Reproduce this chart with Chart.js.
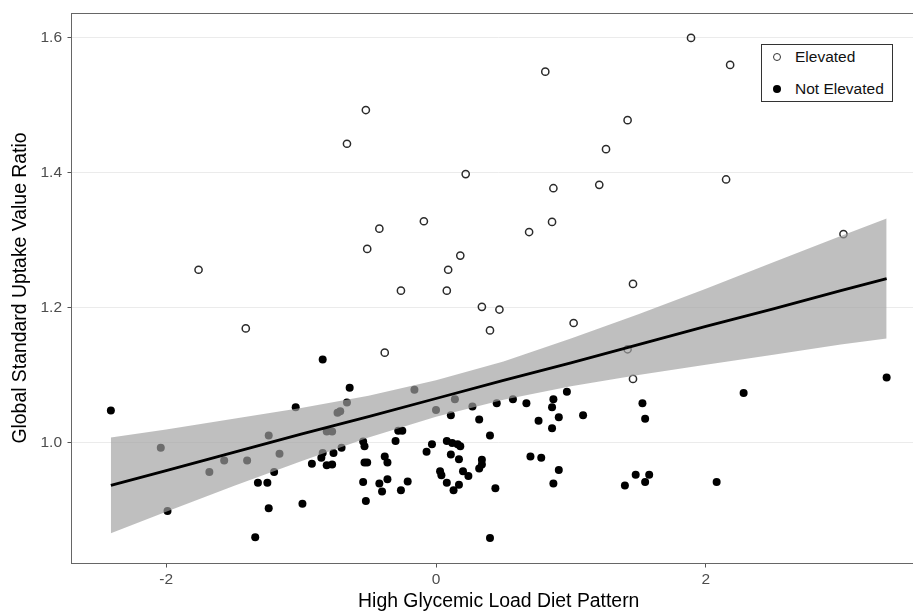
<!DOCTYPE html>
<html>
<head>
<meta charset="utf-8">
<script src="https://cdn.jsdelivr.net/npm/chart.js@4.4.1/dist/chart.umd.min.js"></script>
<style>
  body { margin: 0; background: #fff; }
  #wrap { position: relative; width: 913px; height: 611px; overflow: hidden; }
  #legend {
    position: absolute; left: 761px; top: 44px; width: 130px; height: 56px;
    border: 1px solid #333; background: #fff;
    font-family: 'Liberation Sans', Arial, sans-serif; font-size: 15.5px; color: #111;
  }
  .row { position: absolute; left: 0; height: 20px; display: flex; align-items: center; }
  .mk { position: absolute; left: 11px; width: 8px; height: 8px; border-radius: 50%; box-sizing: border-box; }
  .lbl { position: absolute; left: 33px; white-space: nowrap; }
</style>
</head>
<body>
<div id="wrap">
  <!-- canvas is a little wider than the window: the panel's right edge is cut off, as in the source -->
  <canvas id="scatterChart" width="931" height="611"></canvas>
  <div id="legend">
    <div class="row" style="top:2px"><span class="mk" style="border:1.4px solid #333;"></span><span class="lbl">Elevated</span></div>
    <div class="row" style="top:34px"><span class="mk" style="background:#000;"></span><span class="lbl">Not Elevated</span></div>
  </div>
</div>
<script>
// Elevated (open circles)
const elevatedX = [-1.76, -1.41, -0.66, -0.52, -0.51, -0.42, -0.38, -0.26, -0.09, 0.08, 0.09, 0.18, 0.22, 0.34, 0.40, 0.47,
    0.69, 0.81, 0.86, 0.87, 1.02, 1.21, 1.26, 1.42, 1.42, 1.46, 1.46, 1.89, 2.15, 2.18, 3.02];
const elevatedY = [1.256, 1.169, 1.443, 1.493, 1.287, 1.317, 1.133, 1.225, 1.328, 1.225, 1.256, 1.277, 1.398, 1.201, 1.166, 1.197,
    1.312, 1.550, 1.327, 1.377, 1.177, 1.382, 1.435, 1.478, 1.138, 1.094, 1.235, 1.600, 1.390, 1.560, 1.309];

// Not Elevated (filled circles)
const notElevatedX = [-2.41, -2.04, -1.99, -1.68, -1.57, -1.40, -1.34, -1.32, -1.25, -1.24, -1.24, -1.20, -1.16, -1.04, -0.99, -0.92,
    -0.85, -0.84, -0.84, -0.81, -0.81, -0.77, -0.77, -0.76, -0.73, -0.71, -0.70, -0.66, -0.64, -0.54, -0.53, -0.53,
    -0.51, -0.54, -0.52, -0.42, -0.40, -0.38, -0.36, -0.36, -0.30, -0.28, -0.25, -0.26, -0.21, -0.16, -0.07, -0.03,
    0.00, 0.03, 0.04, 0.08, 0.08, 0.11, 0.11, 0.12, 0.13, 0.14, 0.16, 0.17, 0.17, 0.18, 0.20, 0.24,
    0.27, 0.32, 0.32, 0.34, 0.34, 0.40, 0.40, 0.44, 0.45, 0.57, 0.67, 0.70, 0.76, 0.78, 0.86, 0.86,
    0.87, 0.87, 0.91, 0.91, 0.97, 1.09, 1.40, 1.48, 1.53, 1.55, 1.55, 1.58, 2.08, 2.28, 3.34];
const notElevatedY = [1.047, 0.992, 0.898, 0.956, 0.973, 0.973, 0.859, 0.940, 0.940, 0.902, 1.010, 0.956, 0.983, 1.052, 0.909, 0.968,
    0.977, 0.984, 1.123, 0.966, 1.016, 0.967, 1.016, 0.984, 1.044, 1.046, 0.992, 1.059, 1.081, 1.001, 0.994, 0.970,
    0.970, 0.941, 0.913, 0.939, 0.927, 0.979, 0.970, 0.945, 1.002, 1.017, 1.017, 0.929, 0.942, 1.078, 0.986, 0.997,
    1.048, 0.957, 0.951, 0.940, 1.002, 0.982, 1.040, 0.999, 0.929, 1.064, 0.997, 0.975, 0.937, 0.994, 0.957, 0.950,
    1.053, 0.961, 1.034, 0.967, 0.974, 1.010, 0.858, 0.932, 1.058, 1.064, 1.058, 0.979, 1.032, 0.977, 1.021, 1.052,
    0.939, 1.064, 1.037, 0.959, 1.075, 1.040, 0.936, 0.952, 1.058, 0.941, 1.035, 0.952, 0.941, 1.073, 1.096];

// linear fit and its confidence band
const bandX     = [-2.41, -2.0, -1.5, -1.0, -0.5, 0.0, 0.5, 1.0, 1.5, 2.0, 2.5, 3.0, 3.34];
const fitY      = [0.936, 0.958, 0.985, 1.012, 1.038, 1.065, 1.092, 1.118, 1.145, 1.172, 1.198, 1.225, 1.243];
const bandUpper = [1.007, 1.019, 1.035, 1.051, 1.069, 1.092, 1.120, 1.154, 1.190, 1.228, 1.267, 1.306, 1.332];
const bandLower = [0.865, 0.897, 0.935, 0.972, 1.007, 1.038, 1.063, 1.083, 1.100, 1.115, 1.130, 1.145, 1.154];

const xTicks = [-2, 0, 2];
const yTicks = [1.0, 1.2, 1.4, 1.6];

const toPoints = (xs, ys) => xs.map((x, i) => ({ x: x, y: ys[i] }));

const panelBorder = {
    id: 'panelBorder',
    afterDraw(chart) {
        const { ctx, chartArea: a } = chart;
        ctx.save();
        ctx.strokeStyle = '#666';
        ctx.lineWidth = 1;
        ctx.strokeRect(a.left - 0.5, a.top + 0.5, a.right - a.left, a.bottom - a.top);
        ctx.restore();
    }
};

// keep the panel exactly where the layout puts it (no label overhang padding)
function noPadding(scale) {
    scale.paddingTop = 0;
    scale.paddingBottom = 0;
    scale.paddingLeft = 0;
    scale.paddingRight = 0;
}

const tickFont = { family: "'Liberation Sans', Arial, sans-serif", size: 15.5 };
const titleFont = { family: "'Liberation Sans', Arial, sans-serif", size: 19.4 };

new Chart(document.getElementById('scatterChart').getContext('2d'), {
    type: 'scatter',
    data: {
        datasets: [
            {
                type: 'line',
                label: 'fit',
                data: toPoints(bandX, fitY),
                borderColor: '#000',
                borderWidth: 2.8,
                pointRadius: 0,
                fill: false,
                tension: 0,
                order: 0
            },
            {
                type: 'line',
                label: 'upper',
                data: toPoints(bandX, bandUpper),
                borderColor: 'rgba(0,0,0,0)',
                backgroundColor: 'rgba(160,160,160,0.68)',
                pointRadius: 0,
                fill: '+1',
                tension: 0,
                order: 1
            },
            {
                type: 'line',
                label: 'lower',
                data: toPoints(bandX, bandLower),
                borderColor: 'rgba(0,0,0,0)',
                pointRadius: 0,
                fill: false,
                tension: 0,
                order: 1
            },
            {
                label: 'Elevated',
                data: toPoints(elevatedX, elevatedY),
                pointRadius: 3.6,
                pointBorderWidth: 1.5,
                borderColor: '#2b2b2b',
                backgroundColor: 'rgba(0,0,0,0)',
                order: 2
            },
            {
                label: 'Not Elevated',
                data: toPoints(notElevatedX, notElevatedY),
                pointRadius: 4,
                pointBorderWidth: 0,
                borderColor: 'rgba(0,0,0,0)',
                backgroundColor: '#000',
                order: 2
            }
        ]
    },
    options: {
        responsive: false,
        animation: false,
        layout: { padding: { top: 13, right: 0, bottom: 0, left: 0 } },
        plugins: { legend: { display: false }, tooltip: { enabled: false } },
        scales: {
            x: {
                type: 'linear',
                min: -2.698,
                max: 3.628,
                afterBuildTicks: scale => { scale.ticks = xTicks.map(v => ({ value: v })); },
                afterFit: scale => { scale.height = 48; noPadding(scale); },
                border: { display: false },
                grid: { drawOnChartArea: false, tickLength: 4.5, tickColor: '#555' },
                ticks: { font: tickFont, color: '#4d4d4d', padding: 3, maxRotation: 0 },
                title: {
                    display: true,
                    text: 'High Glycemic Load Diet Pattern',
                    color: '#000',
                    font: Object.assign({ lineHeight: 1 }, titleFont),
                    padding: { top: 0, bottom: 0 }
                }
            },
            y: {
                type: 'linear',
                min: 0.8209,
                max: 1.637,
                afterBuildTicks: scale => { scale.ticks = yTicks.map(v => ({ value: v })); },
                afterFit: scale => { scale.width = 72; noPadding(scale); },
                border: { display: false },
                grid: { color: '#ebebeb', lineWidth: 1, tickLength: 4.5, tickColor: '#555' },
                ticks: { font: tickFont, color: '#4d4d4d', padding: 5.5, callback: v => v.toFixed(1) },
                title: {
                    display: true,
                    text: 'Global Standard Uptake Value Ratio',
                    color: '#000',
                    font: titleFont,
                    padding: { top: 8.8, bottom: 0 }
                }
            }
        }
    },
    plugins: [panelBorder]
});
</script>
</body>
</html>
